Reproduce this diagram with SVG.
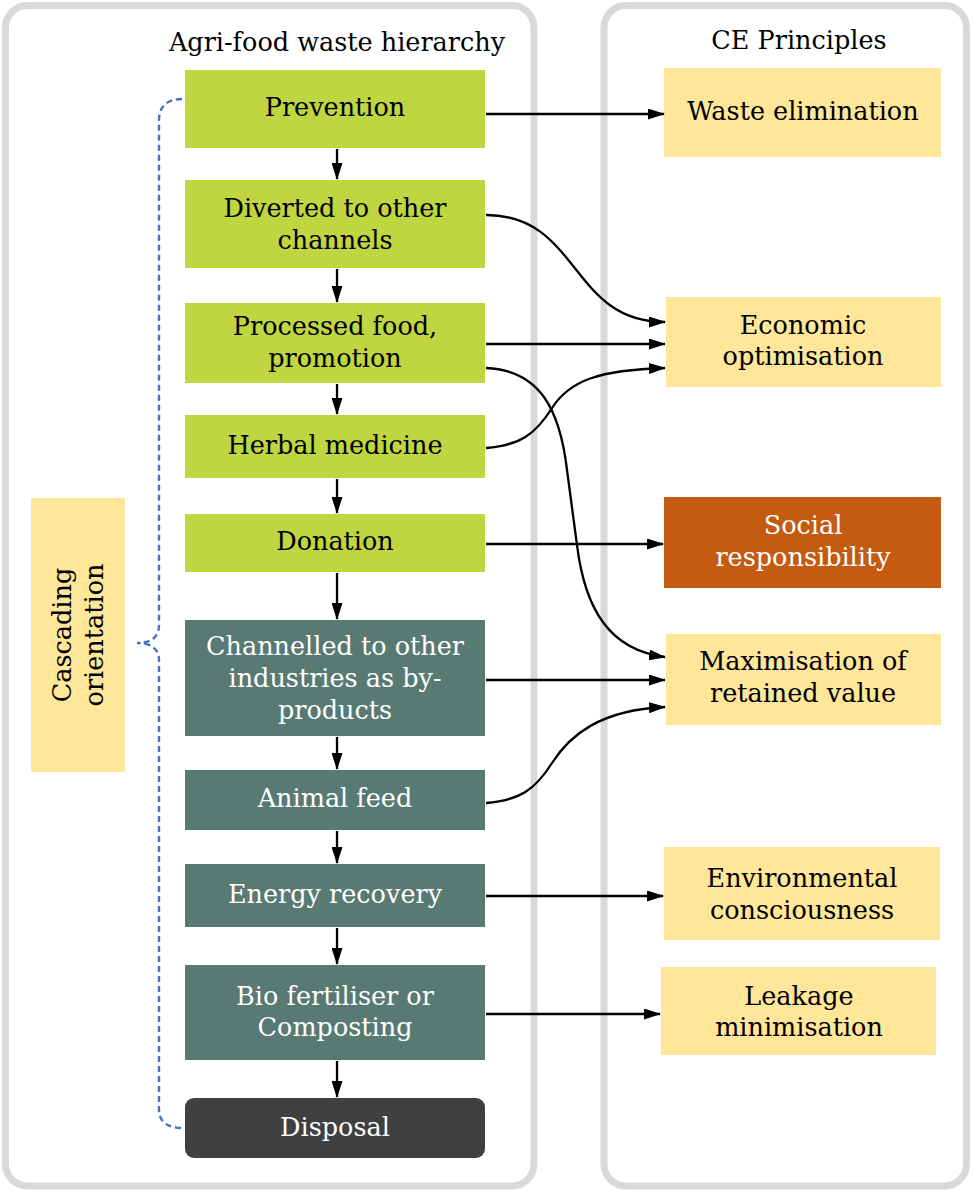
<svg xmlns="http://www.w3.org/2000/svg" width="973" height="1191" viewBox="0 0 973 1191">
<defs>
<style>
.panel{fill:#ffffff;stroke:#d9d9d9;stroke-width:7}
.green{fill:#bfd641}
.teal{fill:#587a72}
.dark{fill:#404040}
.yellow{fill:#ffe699}
.orange{fill:#c55a11}
text{font-family:"DejaVu Serif","Liberation Serif",serif;font-size:25.5px;text-anchor:middle;fill:#000000}
text.w{fill:#ffffff}
.conn{fill:none;stroke:#000000;stroke-width:2.3;marker-end:url(#ah)}
.brace{fill:none;stroke:#4472c4;stroke-width:2.4;stroke-dasharray:6,4}
</style>
<marker id="ah" markerWidth="17" markerHeight="11" refX="16" refY="5.5" orient="auto" markerUnits="userSpaceOnUse"><path d="M0,0 L17,5.5 L0,11 z" fill="#000000"/></marker>
</defs>
<rect x="0" y="0" width="973" height="1191" fill="#ffffff"/>
<g id="panel-hierarchy"><rect class="panel" x="5.5" y="5.5" width="528.5" height="1180.5" rx="22"/><text x="337" y="51">Agri-food waste hierarchy</text></g>
<g id="panel-ce"><rect class="panel" x="604" y="5.5" width="362.5" height="1180.5" rx="22"/><text x="799" y="49">CE Principles</text></g>

<g id="cascading"><rect class="yellow" x="31" y="498" width="94" height="274"/><text transform="translate(78,635) rotate(-90)"><tspan x="0" y="-7">Cascading</tspan><tspan x="0" y="25">orientation</tspan></text></g>

<g id="prevention"><rect class="green" x="185" y="70" width="300" height="78"/><text x="335" y="116">Prevention</text></g>
<g id="diverted"><rect class="green" x="185" y="180" width="300" height="88"/><text x="335" y="217">Diverted to other</text><text x="335" y="249">channels</text></g>
<g id="processed"><rect class="green" x="185" y="303" width="300" height="80"/><text x="335" y="335">Processed food,</text><text x="335" y="367">promotion</text></g>
<g id="herbal"><rect class="green" x="185" y="415" width="300" height="63"/><text x="335" y="454">Herbal medicine</text></g>
<g id="donation"><rect class="green" x="185" y="514" width="300" height="58"/><text x="335" y="550">Donation</text></g>
<g id="channelled"><rect class="teal" x="185" y="620" width="300" height="116"/><text class="w" x="335" y="655">Channelled to other</text><text class="w" x="335" y="687">industries as by-</text><text class="w" x="335" y="719">products</text></g>
<g id="animal-feed"><rect class="teal" x="185" y="770" width="300" height="60"/><text class="w" x="335" y="807">Animal feed</text></g>
<g id="energy"><rect class="teal" x="185" y="864" width="300" height="63"/><text class="w" x="335" y="903">Energy recovery</text></g>
<g id="biofert"><rect class="teal" x="185" y="965" width="300" height="95"/><text class="w" x="335" y="1005">Bio fertiliser or</text><text class="w" x="335" y="1036">Composting</text></g>
<g id="disposal"><rect class="dark" x="185" y="1098" width="300" height="60" rx="9"/><text class="w" x="335" y="1136">Disposal</text></g>

<g id="waste-elim"><rect class="yellow" x="664" y="68" width="277" height="89"/><text x="803" y="120">Waste elimination</text></g>
<g id="economic"><rect class="yellow" x="666" y="297" width="275" height="90"/><text x="803" y="334">Economic</text><text x="803" y="365">optimisation</text></g>
<g id="social"><rect class="orange" x="664" y="497" width="277" height="91"/><text class="w" x="803" y="534">Social</text><text class="w" x="803" y="566">responsibility</text></g>
<g id="maximisation"><rect class="yellow" x="666" y="634" width="275" height="91"/><text x="803" y="670">Maximisation of</text><text x="803" y="702">retained value</text></g>
<g id="environmental"><rect class="yellow" x="664" y="847" width="276" height="93"/><text x="802" y="887">Environmental</text><text x="802" y="919">consciousness</text></g>
<g id="leakage"><rect class="yellow" x="661" y="967" width="275" height="88"/><text x="799" y="1005">Leakage</text><text x="799" y="1036">minimisation</text></g>

<g id="connectors">
<path class="conn" d="M337,149 L337,179"/>
<path class="conn" d="M337,269 L337,302"/>
<path class="conn" d="M337,384 L337,414"/>
<path class="conn" d="M337,479 L337,513"/>
<path class="conn" d="M337,573 L337,619"/>
<path class="conn" d="M337,737 L337,769"/>
<path class="conn" d="M337,831 L337,863"/>
<path class="conn" d="M337,928 L337,964"/>
<path class="conn" d="M337,1061 L337,1097"/>
<path class="conn" d="M486,114 L664,114"/>
<path class="conn" d="M486,215 C580,215 570,322 665,322"/>
<path class="conn" d="M486,344 L665,344"/>
<path class="conn" d="M486,368 C540,370 560,410 567,470 L577,545 C585,610 610,650 665,657"/>
<path class="conn" d="M486,448 C520,445 535,435 552,408 C570,380 600,370 665,368"/>
<path class="conn" d="M486,544 L663,544"/>
<path class="conn" d="M486,680 L665,680"/>
<path class="conn" d="M486,803 C520,800 535,790 552,763 C570,735 600,710 665,707"/>
<path class="conn" d="M486,896 L663,896"/>
<path class="conn" d="M486,1014 L660,1014"/>
<path class="brace" d="M182,99 C168,99 159,106 159,120 L159,625 C159,638 150,643 137,643 C150,643 159,648 159,660 L159,1110 C159,1122 168,1128 182,1128"/>
</g>
</svg>
